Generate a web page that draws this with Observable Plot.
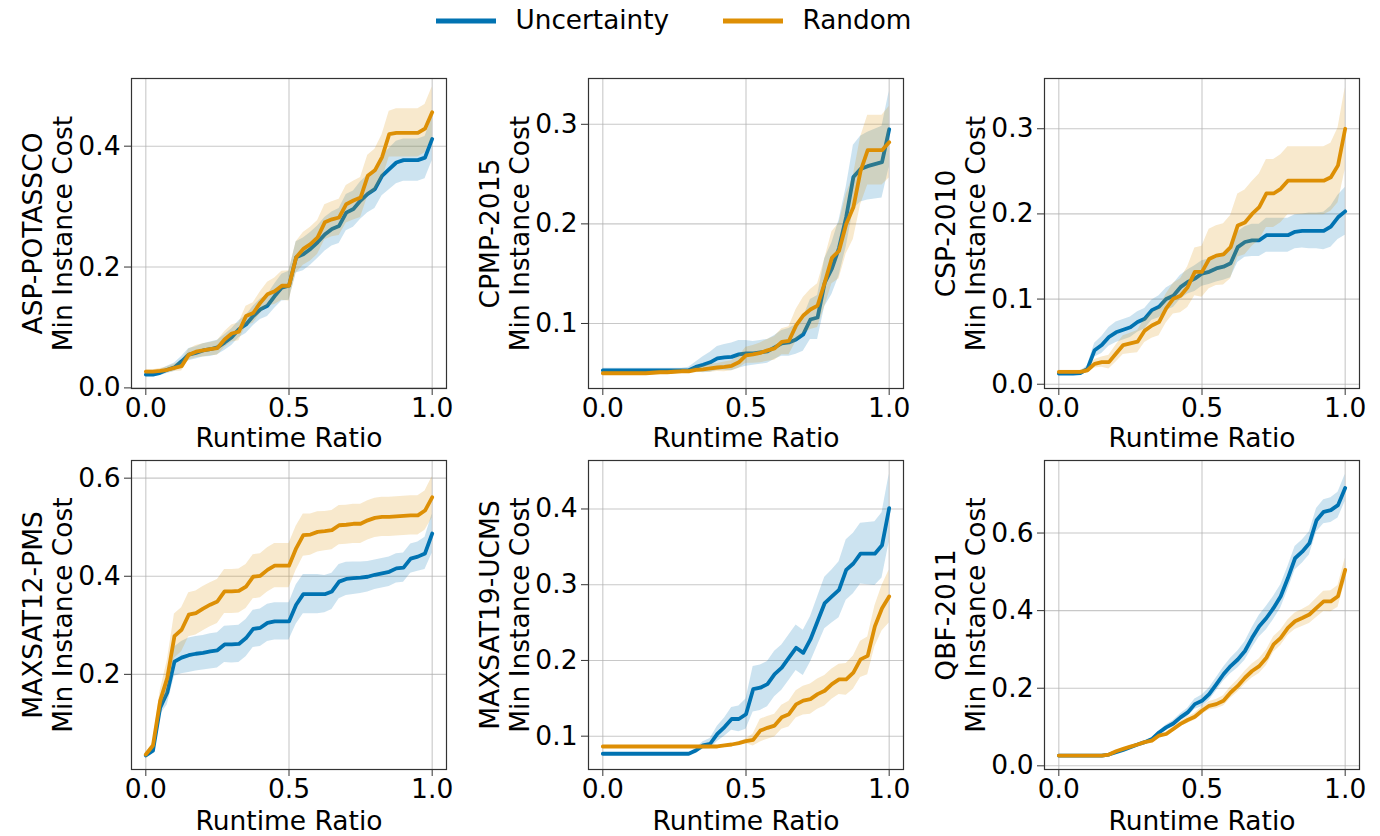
<!DOCTYPE html>
<html><head><meta charset="utf-8">
<script src="https://cdn.jsdelivr.net/npm/d3@7"></script>
<script src="https://cdn.jsdelivr.net/npm/@observablehq/plot@0.6"></script>
<style>
body{margin:0;background:#fff;}
#root{position:relative;width:1380px;height:836px;overflow:hidden;font-family:"DejaVu Sans";}
.panel{position:absolute;}
.panel svg{overflow:visible;}
</style></head><body><div id="root"></div>
<script>
// shared x grid (runtime ratio)
const ratio = [0,0.025,0.05,0.075,0.1,0.125,0.15,0.175,0.2,0.225,0.25,0.275,0.3,0.325,0.35,0.375,0.4,0.425,0.45,0.475,0.5,0.525,0.55,0.575,0.6,0.625,0.65,0.675,0.7,0.725,0.75,0.775,0.8,0.825,0.85,0.875,0.9,0.925,0.95,0.975,1];
const seriesNames = ["Uncertainty","Random"];
const seriesColors = ["#0173b2","#de8f05"];
const scenarios = ["ASP-POTASSCO","CPMP-2015","CSP-2010","MAXSAT12-PMS","MAXSAT19-UCMS","QBF-2011"];
const xTicks = [0,0.5,1];

// ASP-POTASSCO
const uncMean1 = [0.022,0.022,0.025,0.030,0.034,0.044,0.055,0.058,0.062,0.064,0.067,0.075,0.084,0.097,0.105,0.119,0.130,0.136,0.152,0.166,0.169,0.216,0.221,0.230,0.241,0.254,0.263,0.268,0.290,0.296,0.310,0.321,0.329,0.351,0.362,0.373,0.377,0.377,0.377,0.381,0.412];
const uncSd1 = [0.003,0.003,0.005,0.006,0.007,0.008,0.010,0.010,0.011,0.012,0.012,0.013,0.014,0.014,0.015,0.016,0.017,0.018,0.020,0.022,0.024,0.026,0.027,0.027,0.027,0.028,0.028,0.029,0.030,0.030,0.031,0.031,0.032,0.033,0.034,0.035,0.035,0.035,0.035,0.035,0.036];
const randMean1 = [0.027,0.027,0.028,0.030,0.033,0.036,0.055,0.060,0.062,0.064,0.066,0.080,0.090,0.093,0.119,0.124,0.141,0.155,0.160,0.169,0.169,0.216,0.230,0.238,0.249,0.274,0.279,0.282,0.304,0.310,0.315,0.351,0.360,0.382,0.420,0.422,0.422,0.422,0.422,0.429,0.456];
const randSd1 = [0.003,0.003,0.004,0.005,0.006,0.008,0.009,0.010,0.011,0.011,0.012,0.013,0.014,0.015,0.016,0.017,0.018,0.020,0.022,0.024,0.025,0.026,0.027,0.028,0.028,0.029,0.029,0.030,0.031,0.032,0.033,0.034,0.035,0.037,0.038,0.040,0.040,0.040,0.040,0.040,0.042];

// CPMP-2015
const uncMean2 = [0.053,0.053,0.053,0.053,0.053,0.053,0.053,0.053,0.053,0.053,0.053,0.053,0.053,0.0564,0.0585,0.061,0.065,0.066,0.0665,0.069,0.070,0.070,0.071,0.072,0.076,0.080,0.081,0.084,0.089,0.104,0.106,0.141,0.155,0.176,0.207,0.247,0.255,0.258,0.260,0.262,0.295];
const uncSd2 = [0.002,0.002,0.002,0.002,0.002,0.002,0.002,0.002,0.002,0.002,0.002,0.002,0.003,0.005,0.008,0.010,0.012,0.013,0.014,0.014,0.013,0.012,0.012,0.012,0.012,0.013,0.014,0.015,0.017,0.020,0.022,0.024,0.026,0.028,0.030,0.032,0.033,0.034,0.035,0.036,0.038];
const randMean2 = [0.050,0.050,0.050,0.050,0.050,0.050,0.050,0.0505,0.051,0.051,0.0515,0.052,0.052,0.0534,0.054,0.055,0.0558,0.0564,0.0575,0.061,0.068,0.069,0.0705,0.073,0.075,0.0816,0.0826,0.098,0.108,0.114,0.118,0.141,0.166,0.173,0.200,0.2166,0.253,0.274,0.274,0.274,0.282];
const randSd2 = [0.002,0.002,0.002,0.002,0.002,0.002,0.002,0.002,0.002,0.002,0.002,0.002,0.002,0.003,0.003,0.004,0.004,0.005,0.005,0.006,0.008,0.009,0.010,0.011,0.012,0.013,0.014,0.016,0.018,0.020,0.022,0.024,0.026,0.028,0.030,0.032,0.034,0.035,0.035,0.035,0.036];

// CSP-2010
const uncMean3 = [0.0125,0.0125,0.0125,0.013,0.018,0.040,0.046,0.0555,0.061,0.064,0.067,0.073,0.077,0.087,0.091,0.100,0.104,0.114,0.120,0.124,0.130,0.132,0.136,0.138,0.142,0.161,0.167,0.169,0.169,0.175,0.175,0.175,0.175,0.179,0.180,0.180,0.180,0.180,0.185,0.196,0.203];
const uncSd3 = [0.002,0.002,0.002,0.002,0.004,0.008,0.010,0.011,0.012,0.012,0.012,0.012,0.012,0.012,0.013,0.013,0.014,0.014,0.014,0.015,0.015,0.015,0.016,0.016,0.017,0.018,0.018,0.019,0.019,0.020,0.020,0.020,0.020,0.020,0.020,0.021,0.021,0.022,0.024,0.026,0.028];
const randMean3 = [0.0145,0.0145,0.0145,0.0145,0.0164,0.024,0.026,0.026,0.036,0.046,0.048,0.050,0.063,0.069,0.073,0.089,0.1005,0.104,0.114,0.132,0.132,0.147,0.151,0.1525,0.161,0.1865,0.190,0.200,0.208,0.224,0.224,0.2295,0.239,0.239,0.239,0.239,0.239,0.239,0.243,0.257,0.300];
const randSd3 = [0.002,0.002,0.002,0.002,0.003,0.005,0.006,0.008,0.010,0.011,0.012,0.013,0.014,0.015,0.016,0.017,0.018,0.020,0.024,0.028,0.030,0.035,0.035,0.036,0.037,0.037,0.038,0.038,0.039,0.040,0.040,0.040,0.040,0.040,0.040,0.040,0.040,0.040,0.040,0.044,0.048];

// MAXSAT12-PMS
const uncMean4 = [0.0345,0.0446,0.132,0.163,0.226,0.234,0.239,0.242,0.244,0.247,0.249,0.261,0.261,0.262,0.274,0.2926,0.295,0.305,0.308,0.308,0.308,0.342,0.3635,0.3635,0.3635,0.3635,0.369,0.389,0.3946,0.396,0.397,0.399,0.403,0.406,0.409,0.416,0.4176,0.436,0.440,0.4466,0.487];
const uncSd4 = [0.003,0.005,0.015,0.025,0.030,0.033,0.035,0.035,0.035,0.036,0.036,0.037,0.038,0.038,0.038,0.038,0.038,0.038,0.038,0.038,0.038,0.040,0.040,0.040,0.040,0.038,0.037,0.035,0.034,0.033,0.032,0.031,0.030,0.030,0.030,0.030,0.030,0.030,0.030,0.033,0.040];
const randMean4 = [0.0365,0.055,0.146,0.193,0.278,0.291,0.3216,0.325,0.334,0.342,0.3486,0.369,0.369,0.370,0.379,0.399,0.401,0.413,0.4216,0.4216,0.4216,0.457,0.484,0.485,0.4905,0.492,0.494,0.504,0.505,0.507,0.507,0.514,0.519,0.521,0.521,0.522,0.523,0.524,0.524,0.534,0.561];
const randSd4 = [0.003,0.006,0.020,0.035,0.045,0.045,0.045,0.045,0.045,0.045,0.045,0.045,0.045,0.045,0.045,0.045,0.045,0.045,0.045,0.045,0.045,0.045,0.043,0.042,0.041,0.040,0.040,0.040,0.040,0.040,0.040,0.040,0.040,0.040,0.040,0.040,0.040,0.040,0.040,0.040,0.042];

// MAXSAT19-UCMS
const uncMean5 = [0.0768,0.0768,0.0768,0.0768,0.0768,0.0768,0.0768,0.0768,0.0768,0.0768,0.0768,0.0768,0.0768,0.081,0.0878,0.090,0.103,0.112,0.1227,0.1227,0.129,0.162,0.164,0.1687,0.182,0.1905,0.2036,0.2167,0.210,0.2277,0.2517,0.2758,0.2845,0.2933,0.3195,0.328,0.341,0.341,0.341,0.352,0.401];
const uncSd5 = [0.001,0.001,0.001,0.001,0.001,0.001,0.001,0.001,0.001,0.001,0.001,0.001,0.001,0.003,0.005,0.007,0.010,0.012,0.015,0.017,0.020,0.030,0.030,0.030,0.030,0.030,0.030,0.030,0.030,0.030,0.032,0.034,0.035,0.037,0.040,0.040,0.040,0.041,0.042,0.043,0.045];
const randMean5 = [0.0864,0.0864,0.0864,0.0864,0.0864,0.0864,0.0864,0.0864,0.0864,0.0864,0.0864,0.0864,0.0864,0.0864,0.0864,0.0864,0.0864,0.0878,0.089,0.0908,0.0934,0.095,0.1074,0.111,0.114,0.125,0.129,0.142,0.147,0.149,0.1555,0.160,0.1687,0.175,0.175,0.184,0.2014,0.206,0.245,0.269,0.2845];
const randSd5 = [0.001,0.001,0.001,0.001,0.001,0.001,0.001,0.001,0.001,0.001,0.001,0.001,0.001,0.001,0.001,0.001,0.001,0.001,0.001,0.002,0.003,0.008,0.015,0.015,0.015,0.016,0.017,0.018,0.019,0.020,0.020,0.020,0.020,0.020,0.021,0.022,0.024,0.025,0.027,0.030,0.035];

// QBF-2011
const uncMean6 = [0.0265,0.0265,0.0265,0.0265,0.0265,0.0265,0.0265,0.029,0.035,0.041,0.048,0.055,0.061,0.069,0.086,0.099,0.109,0.125,0.1376,0.159,0.1675,0.1846,0.210,0.236,0.257,0.274,0.296,0.330,0.360,0.381,0.407,0.437,0.484,0.535,0.552,0.5735,0.633,0.6547,0.659,0.672,0.716];
const uncSd6 = [0.002,0.002,0.002,0.002,0.002,0.002,0.002,0.002,0.002,0.002,0.002,0.002,0.002,0.003,0.004,0.006,0.008,0.009,0.011,0.013,0.015,0.016,0.017,0.018,0.020,0.022,0.024,0.026,0.028,0.030,0.030,0.030,0.030,0.030,0.030,0.030,0.030,0.031,0.032,0.033,0.035];
const randMean6 = [0.0265,0.0265,0.0265,0.0265,0.0265,0.0265,0.0265,0.029,0.0376,0.0436,0.0496,0.055,0.061,0.065,0.078,0.082,0.095,0.108,0.118,0.1265,0.142,0.1547,0.159,0.1675,0.189,0.206,0.227,0.2444,0.257,0.2786,0.313,0.330,0.3556,0.3726,0.381,0.390,0.407,0.424,0.424,0.437,0.505];
const randSd6 = [0.002,0.002,0.002,0.002,0.002,0.002,0.002,0.002,0.002,0.002,0.002,0.002,0.002,0.003,0.004,0.005,0.006,0.007,0.008,0.009,0.010,0.011,0.012,0.013,0.015,0.016,0.017,0.018,0.019,0.020,0.020,0.020,0.020,0.021,0.022,0.023,0.025,0.026,0.027,0.028,0.030];

const yTicks = [[0,0.2,0.4],[0.1,0.2,0.3],[0,0.1,0.2,0.3],[0.2,0.4,0.6],[0.1,0.2,0.3,0.4],[0,0.2,0.4,0.6]];
const yDomains = [[-0.001,0.512],[0.0347,0.346],[-0.005,0.359],[0.006,0.636],[0.056,0.464],[-0.0095,0.787]];

const means = [[uncMean1,randMean1],[uncMean2,randMean2],[uncMean3,randMean3],[uncMean4,randMean4],[uncMean5,randMean5],[uncMean6,randMean6]];
const sds = [[uncSd1,randSd1],[uncSd2,randSd2],[uncSd3,randSd3],[uncSd4,randSd4],[uncSd5,randSd5],[uncSd6,randSd6]];

const root = document.getElementById("root");
const colLeft = [0,456,912], colML = [131,132,132], colW = [456,456,468];
const rowTop = [0,450], rowMT = [78,10], rowH = [450,386], rowFH = [310,309], rowXLab = [58.5,60.3];
const fmt = d3.format(".1f");
const FS = 26.5;

scenarios.forEach((name, i) => {
  const c = i % 3, r = Math.floor(i / 3);
  const W = colW[c], H = rowH[r], ML = colML[c], MT = rowMT[r];
  const MR = W - ML - 315, MB = H - MT - rowFH[r];
  const marks = [
    Plot.gridX(xTicks, {stroke: "#b0b0b0", strokeOpacity: 0.7, strokeWidth: 1.1}),
    Plot.gridY(yTicks[i], {stroke: "#b0b0b0", strokeOpacity: 0.7, strokeWidth: 1.1})
  ];
  seriesNames.forEach((s, k) => {
    const m = means[i][k], sd = sds[i][k];
    const rows = ratio.map((x, j) => ({x, y: m[j], lo: m[j] - sd[j], hi: m[j] + sd[j]}));
    marks.push(Plot.line(rows, {x: "x", y: "y", stroke: seriesColors[k], strokeWidth: 3.8, strokeLinejoin: "round", clip: true}));
    marks.push(Plot.areaY(rows, {x: "x", y1: "lo", y2: "hi", fill: seriesColors[k], fillOpacity: 0.2, clip: true}));
  });
  marks.push(
    Plot.frame({stroke: "#333", strokeWidth: 1.2}),
    Plot.axisX(xTicks, {tickFormat: fmt, tickSize: 7, tickPadding: 3, label: null, stroke: "#333", fill: "#000", fontSize: FS}),
    Plot.axisY(yTicks[i], {tickFormat: fmt, tickSize: 7, tickPadding: 4, label: null, stroke: "#333", fill: "#000", fontSize: FS}),
    Plot.text([name + "\nMin Instance Cost"], {frameAnchor: "left", textAnchor: "middle", rotate: -90, dx: -59.5, lineAnchor: "bottom", lineHeight: 1.13, fontSize: FS, fill: "#000"}),
    Plot.text(["Runtime Ratio"], {frameAnchor: "bottom", textAnchor: "middle", dy: rowXLab[r], lineAnchor: "bottom", fontSize: FS, fill: "#000"})
  );
  const svg = Plot.plot({
    width: W, height: H, marginLeft: ML, marginRight: MR, marginTop: MT, marginBottom: MB,
    style: {fontFamily: "DejaVu Sans", fontSize: FS + "px", background: "none", color: "#000"},
    x: {domain: [-0.05, 1.05]},
    y: {domain: yDomains[i]},
    marks
  });
  const div = document.createElement("div");
  div.className = "panel";
  div.style.left = colLeft[c] + "px";
  div.style.top = rowTop[r] + "px";
  div.style.width = W + "px";
  div.style.height = H + "px";
  div.appendChild(svg);
  root.appendChild(div);
});

// legend
const leg = d3.create("svg").attr("width", 1380).attr("height", 50)
  .style("position", "absolute").style("left", "0px").style("top", "0px").style("overflow", "visible");
const legX = [436, 723];
seriesNames.forEach((s, k) => {
  leg.append("line").attr("x1", legX[k]).attr("x2", legX[k] + 60).attr("y1", 21).attr("y2", 21)
    .attr("stroke", seriesColors[k]).attr("stroke-width", 5);
  leg.append("text").attr("x", legX[k] + 79.5).attr("y", 29.3).text(s)
    .attr("font-family", "DejaVu Sans").attr("font-size", 26.3).attr("fill", "#000");
});
root.appendChild(leg.node());
</script></body></html>
